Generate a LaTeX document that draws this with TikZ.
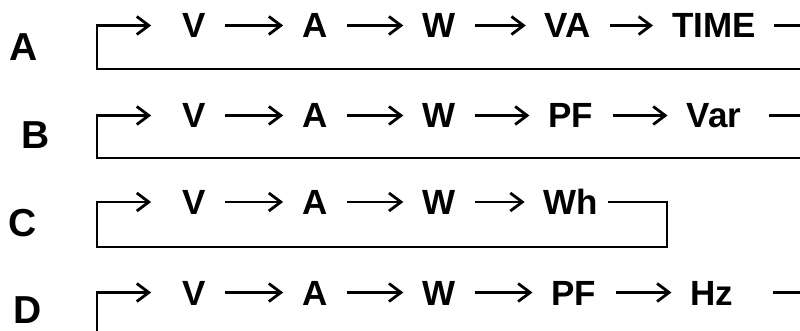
\documentclass[tikz,border=0pt]{standalone}
\usepackage{fontspec}
\setmainfont{Liberation Sans}
\usetikzlibrary{arrows.meta}

\begin{document}
\begin{tikzpicture}[
    x=1pt, y=-1pt,
    item/.style={inner sep=0pt, font=\fontsize{35}{40}\selectfont\bfseries,
                 text height=25pt, text depth=0pt},
    rowlabel/.style={inner sep=0pt, font=\fontsize{39}{46}\selectfont\bfseries},
    flow/.style={-{Straight Barb[length=12pt,width=18pt]}, line width=2.8pt,
                 shorten <=19pt, shorten >=19pt},
    feedback/.style={-{Straight Barb[length=12pt,width=18pt]}, line width=2.8pt,
                 shorten <=18pt, shorten >=31pt}
]
\useasboundingbox (0,0) rectangle (800,331);
\clip (0,0) rectangle (800,331);

% row A
\node[rowlabel] (labA) at (24,47) {A};
\node[item] (vA) at (194,25.5) {V};
\node[item] (aA) at (315,25.5) {A};
\node[item] (wA) at (439,25.5) {W};
\node[item] (vaA) at (568,25.5) {VA};
\node[item] (timeA) at (714,25.5) {TIME};
\coordinate (rA) at (830,69);
\coordinate (lA) at (97,69);

\draw[flow] (vA) -- (aA);
\draw[flow] (aA) -- (wA);
\draw[flow] (wA) -- (vaA);
\draw[flow] (vaA) -- (timeA);
\draw[feedback] (timeA.east) -| (rA) -- (lA) |- (vA.west);

% row B
\node[rowlabel] (labB) at (36,135) {B};
\node[item] (vB) at (194,115.5) {V};
\node[item] (aB) at (315,115.5) {A};
\node[item] (wB) at (439,115.5) {W};
\node[item] (pfB) at (571,115.5) {PF};
\node[item] (varB) at (714,115.5) {Var};
\coordinate (rB) at (830,158);
\coordinate (lB) at (97,158);

\draw[flow] (vB) -- (aB);
\draw[flow] (aB) -- (wB);
\draw[flow] (wB) -- (pfB);
\draw[flow] (pfB) -- (varB);
\draw[feedback, shorten <=28pt] (varB.east) -| (rB) -- (lB) |- (vB.west);

% row C
\node[rowlabel] (labC) at (23,223) {C};
\node[item] (vC) at (194,202) {V};
\node[item] (aC) at (315,202) {A};
\node[item] (wC) at (439,202) {W};
\node[item] (whC) at (571,202) {Wh};
\coordinate (rC) at (667,247);
\coordinate (lC) at (97,247);

\draw[flow] (vC) -- (aC);
\draw[flow] (aC) -- (wC);
\draw[flow] (wC) -- (whC);
\draw[feedback, shorten <=10pt] (whC.east) -| (rC) -- (lC) |- (vC.west);

% row D
\node[rowlabel] (labD) at (28,310) {D};
\node[item] (vD) at (194,292.5) {V};
\node[item] (aD) at (315,292.5) {A};
\node[item] (wD) at (439,292.5) {W};
\node[item] (pfD) at (574,292.5) {PF};
\node[item] (hzD) at (712,292.5) {Hz};
\coordinate (rD) at (830,340);
\coordinate (lD) at (97,340);

\draw[flow] (vD) -- (aD);
\draw[flow] (aD) -- (wD);
\draw[flow] (wD) -- (pfD);
\draw[flow] (pfD) -- (hzD);
\draw[feedback, shorten <=39pt] (hzD.east) -| (rD) -- (lD) |- (vD.west);

\end{tikzpicture}
\end{document}
